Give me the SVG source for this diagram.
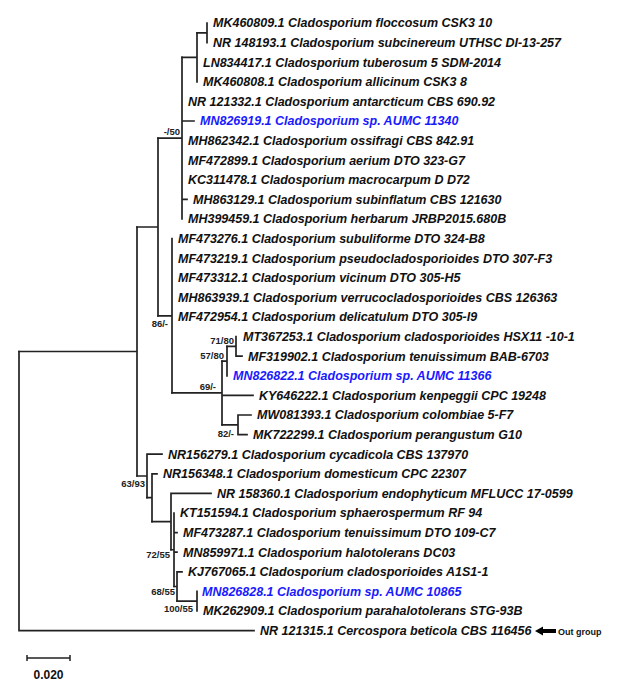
<svg xmlns="http://www.w3.org/2000/svg" width="625" height="693" viewBox="0 0 625 693">
<style>
.t{font-family:"Liberation Sans",Arial,sans-serif;font-size:12.5px;font-weight:bold;font-style:italic;fill:#111}
.b{fill:#1a1aff}
.s{font-family:"Liberation Sans",Arial,sans-serif;font-size:9.5px;font-weight:bold;fill:#222;text-anchor:end}
.br{fill:none;stroke:#222;stroke-width:1.7;stroke-linecap:square}
</style>
<rect width="625" height="693" fill="#fff"/>
<g id="connectors" class="br">
<path d="M207,23V42.6 M197,32.8H207"/>
<path d="M197,32.8V81.8 M182,57.3H197"/>
<path d="M182,57.3V219 M182,121H194 M182,199.4H187 M158,138.15H182"/>
<path d="M158,138.15V315.8 M137,227H158"/>
<path d="M172,238.6V392.95 M158,315.8H172"/>
<path d="M222,361.1V424.8 M172,392.95H222 M222,395.4H253"/>
<path d="M227,346.4V375.8 M222,361.1H227"/>
<path d="M236,336.6V356.2 M236,356.2H242 M227,346.4H236"/>
<path d="M238,415V434.6 M238,415H251 M238,434.6H247 M222,424.8H238"/>
<path d="M147,454.2V497.7 M147,454.2H162 M137,476H147"/>
<path d="M152,473.8V521.6 M152,473.8H157 M147,497.7H152"/>
<path d="M171,493.4V549.75 M171,493.4H211 M152,521.6H171"/>
<path d="M174,513V586.5 M174,532.6H177 M174,552.2H177 M171,549.75H174"/>
<path d="M177,571.8V601.2 M177,571.8H182 M174,586.5H177"/>
<path d="M197,591.4V611 M177,601.2H197"/>
<path d="M137,227V476 M19,351.5H137"/>
<path d="M19,351.5V630.6 M19,630.6H254"/>
</g>
<g id="support">
<text class="s" x="180" y="135">-/50</text>
<text class="s" x="168" y="327">86/-</text>
<text class="s" x="234" y="344">71/80</text>
<text class="s" x="224" y="359">57/80</text>
<text class="s" x="216" y="390">69/-</text>
<text class="s" x="234" y="437">82/-</text>
<text class="s" x="145" y="487">63/93</text>
<text class="s" x="170" y="558">72/55</text>
<text class="s" x="175" y="595">68/55</text>
<text class="s" x="193" y="612">100/55</text>
</g>
<g id="taxon-MK460809"><text class="t" x="213" y="27.3">MK460809.1 Cladosporium floccosum CSK3 10</text></g>
<g id="taxon-NR148193"><text class="t" x="213" y="46.9">NR 148193.1 Cladosporium subcinereum UTHSC DI-13-257</text></g>
<g id="taxon-LN834417"><text class="t" x="203" y="66.5">LN834417.1 Cladosporium tuberosum 5 SDM-2014</text></g>
<g id="taxon-MK460808"><text class="t" x="203" y="86.1">MK460808.1 Cladosporium allicinum CSK3 8</text></g>
<g id="taxon-NR121332"><text class="t" x="188" y="105.7">NR 121332.1 Cladosporium antarcticum CBS 690.92</text></g>
<g id="taxon-MN826919"><text class="t b" x="200" y="125.3">MN826919.1 Cladosporium sp. AUMC 11340</text></g>
<g id="taxon-MH862342"><text class="t" x="188" y="144.9">MH862342.1 Cladosporium ossifragi CBS 842.91</text></g>
<g id="taxon-MF472899"><text class="t" x="188" y="164.5">MF472899.1 Cladosporium aerium DTO 323-G7</text></g>
<g id="taxon-KC311478"><text class="t" x="188" y="184.1">KC311478.1 Cladosporium macrocarpum D D72</text></g>
<g id="taxon-MH863129"><text class="t" x="193" y="203.7">MH863129.1 Cladosporium subinflatum CBS 121630</text></g>
<g id="taxon-MH399459"><text class="t" x="188" y="223.3">MH399459.1 Cladosporium herbarum JRBP2015.680B</text></g>
<g id="taxon-MF473276"><text class="t" x="178" y="242.9">MF473276.1 Cladosporium subuliforme DTO 324-B8</text></g>
<g id="taxon-MF473219"><text class="t" x="178" y="262.5">MF473219.1 Cladosporium pseudocladosporioides DTO 307-F3</text></g>
<g id="taxon-MF473312"><text class="t" x="178" y="282.1">MF473312.1 Cladosporium vicinum DTO 305-H5</text></g>
<g id="taxon-MH863939"><text class="t" x="178" y="301.7">MH863939.1 Cladosporium verrucocladosporioides CBS 126363</text></g>
<g id="taxon-MF472954"><text class="t" x="178" y="321.3">MF472954.1 Cladosporium delicatulum DTO 305-I9</text></g>
<g id="taxon-MT367253"><text class="t" x="243" y="340.9">MT367253.1 Cladosporium cladosporioides HSX11 -10-1</text></g>
<g id="taxon-MF319902"><text class="t" x="248" y="360.5">MF319902.1 Cladosporium tenuissimum BAB-6703</text></g>
<g id="taxon-MN826822"><text class="t b" x="233" y="380.1">MN826822.1 Cladosporium sp. AUMC 11366</text></g>
<g id="taxon-KY646222"><text class="t" x="259" y="399.7">KY646222.1 Cladosporium kenpeggii CPC 19248</text></g>
<g id="taxon-MW081393"><text class="t" x="257" y="419.3">MW081393.1 Cladosporium colombiae 5-F7</text></g>
<g id="taxon-MK722299"><text class="t" x="253" y="438.9">MK722299.1 Cladosporium perangustum G10</text></g>
<g id="taxon-NR156279"><text class="t" x="168" y="458.5">NR156279.1 Cladosporium cycadicola CBS 137970</text></g>
<g id="taxon-NR156348"><text class="t" x="163" y="478.1">NR156348.1 Cladosporium domesticum CPC 22307</text></g>
<g id="taxon-NR158360"><text class="t" x="217" y="497.7">NR 158360.1 Cladosporium endophyticum MFLUCC 17-0599</text></g>
<g id="taxon-KT151594"><text class="t" x="180" y="517.3">KT151594.1 Cladosporium sphaerospermum RF 94</text></g>
<g id="taxon-MF473287"><text class="t" x="183" y="536.9">MF473287.1 Cladosporium tenuissimum DTO 109-C7</text></g>
<g id="taxon-MN859971"><text class="t" x="183" y="556.5">MN859971.1 Cladosporium halotolerans DC03</text></g>
<g id="taxon-KJ767065"><text class="t" x="188" y="576.1">KJ767065.1 Cladosporium cladosporioides A1S1-1</text></g>
<g id="taxon-MN826828"><text class="t b" x="202" y="595.7">MN826828.1 Cladosporium sp. AUMC 10865</text></g>
<g id="taxon-MK262909"><text class="t" x="203" y="615.3">MK262909.1 Cladosporium parahalotolerans STG-93B</text></g>
<g id="taxon-NR121315"><text class="t" x="260" y="634.9">NR 121315.1 Cercospora beticola CBS 116456</text></g>
<g id="outgroup-marker">
<polygon points="535,631 543,626.5 543,629 556,629 556,633 543,633 543,635.5" fill="#000"/>
<text x="558" y="634.5" style="font-family:'Liberation Sans',Arial,sans-serif;font-size:9px;font-weight:bold;fill:#111">Out group</text>
</g>
<g id="scale-bar">
<path d="M27,658H70 M27,655V661 M70,655V661" fill="none" stroke="#222" stroke-width="1.5"/>
<text x="48.5" y="679" text-anchor="middle" style="font-family:'Liberation Sans',Arial,sans-serif;font-size:12px;font-weight:bold;fill:#111">0.020</text>
</g>
</svg>
